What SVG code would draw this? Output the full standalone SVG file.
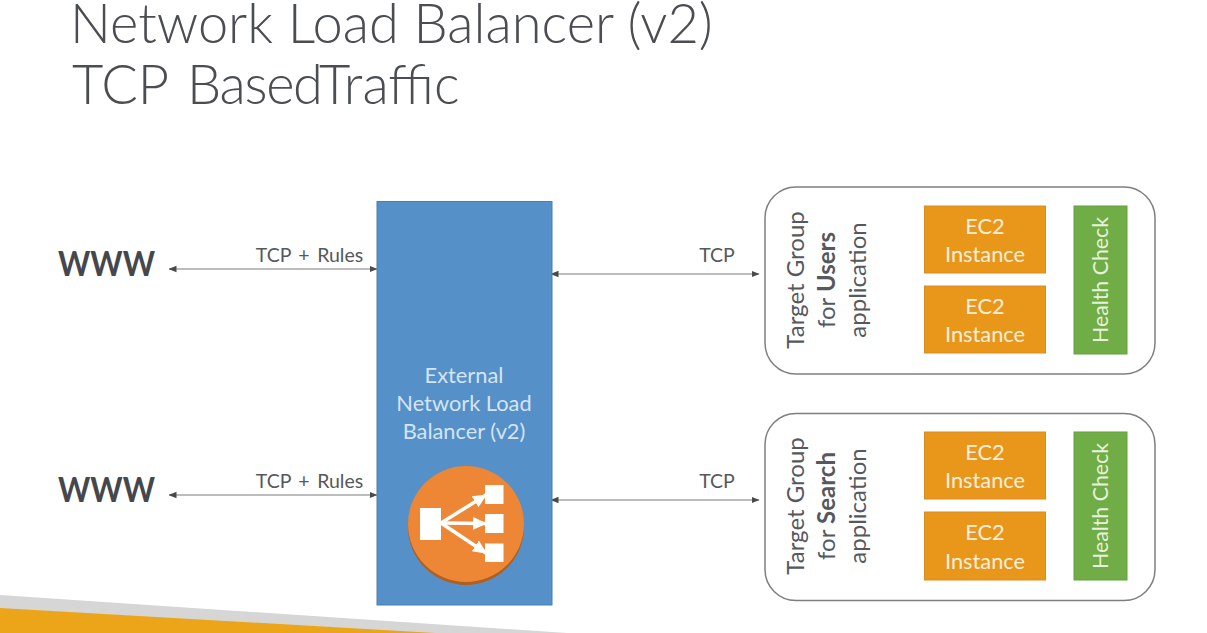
<svg xmlns="http://www.w3.org/2000/svg" width="1207" height="633" viewBox="0 0 1207 633">
<style>
text{font-family:Lato,"Open Sans",sans-serif;}
.title{font-size:54.2px;font-weight:300;fill:#4a4d52;}
.lbl{font-size:19.5px;fill:#55585c;text-anchor:middle;}
.wide{word-spacing:2.5px;}
.www{font-size:35px;font-weight:700;fill:#44484c;text-anchor:middle;}
.w{font-size:21.800px;fill:#fbeeda;text-anchor:middle;}
.lb{font-size:21.800px;fill:#d6e4f3;text-anchor:middle;}
.tg{font-size:24px;fill:#55585c;text-anchor:middle;}
.hc{font-size:21.300px;fill:#e6f2dc;text-anchor:middle;}
.ec2{fill:#e8971a;stroke:#d98d20;stroke-width:1;}
.health{fill:#70ad47;stroke:#64a03e;stroke-width:1;}
.group{fill:#fff;stroke:#7f7f7f;stroke-width:1.5;}
.conn{stroke:#a6a6a6;stroke-width:1.3;fill:none;marker-start:url(#ah);marker-end:url(#ah);}
</style>
<defs>
<marker id="ah" viewBox="0 0 8 8" refX="7.500" refY="4" markerWidth="8" markerHeight="8" markerUnits="userSpaceOnUse" orient="auto-start-reverse"><path d="M0 0.8L8 4L0 7.2Z" fill="#4a4a4a"/></marker>
<marker id="wa" viewBox="0 0 12 12" refX="11" refY="6" markerWidth="14" markerHeight="14" markerUnits="userSpaceOnUse" orient="auto"><path d="M0 0.5L12 6L0 11.5Z" fill="#fff"/></marker>
</defs>
<rect width="1207" height="633" fill="#fff"/>
<g id="footer">
<path d="M0 595L567 633H0Z" fill="#d6d6d6"/>
<path d="M0 608L435 633H0Z" fill="#eca518"/>
</g>
<g id="title">
<text class="title" x="70" y="43">Network Load Balancer (v2)</text>
<text class="title" x="72" y="104">TCP<tspan x="187" letter-spacing="-1.300">Based</tspan><tspan x="319">Traffic</tspan></text>
</g>
<g id="connectors">
<line class="conn" x1="169" y1="269" x2="377" y2="269"/>
<line class="conn" x1="169" y1="495" x2="377" y2="495"/>
<line class="conn" x1="551" y1="274" x2="759" y2="274"/>
<line class="conn" x1="551" y1="500" x2="759" y2="500"/>
<text class="lbl wide" x="309.500" y="262">TCP + Rules</text>
<text class="lbl wide" x="309.500" y="488">TCP + Rules</text>
<text class="lbl" x="717" y="262">TCP</text>
<text class="lbl" x="717" y="488">TCP</text>
</g>
<g id="www-top"><text class="www" x="106.500" y="276" textLength="97" lengthAdjust="spacingAndGlyphs">WWW</text></g>
<g id="www-bottom"><text class="www" x="106.500" y="502" textLength="97" lengthAdjust="spacingAndGlyphs">WWW</text></g>
<g id="load-balancer">
<rect x="377" y="201.500" width="175" height="403.500" fill="#5590c9" stroke="#4a7eb0" stroke-width="1"/>
<text class="lb" x="464" y="383">External</text>
<text class="lb" x="464" y="411">Network Load</text>
<text class="lb" x="464" y="439">Balancer (v2)</text>
<circle cx="466" cy="527" r="58" fill="#b05f22"/>
<circle cx="466" cy="524" r="58" fill="#ed8735"/>
<rect x="420" y="508" width="21" height="32" fill="#fff"/>
<rect x="485" y="485" width="18.500" height="19" fill="#fff"/>
<rect x="485" y="514" width="18.500" height="19" fill="#fff"/>
<rect x="485" y="543.500" width="18.500" height="18.500" fill="#fff"/>
<g stroke="#fff" stroke-width="3.500" fill="none">
<line x1="441" y1="523" x2="486" y2="495" marker-end="url(#wa)"/>
<line x1="441" y1="523" x2="486" y2="523.500" marker-end="url(#wa)"/>
<line x1="441" y1="523" x2="486" y2="553" marker-end="url(#wa)"/>
</g>
</g>
<g id="target-group-users">
<rect class="group" x="765" y="187" width="390" height="187" rx="31"/>
<text class="tg" transform="translate(804 280) rotate(-90)">Target Group</text>
<text class="tg" transform="translate(835 280) rotate(-90)">for <tspan font-weight="700">Users</tspan></text>
<text class="tg" transform="translate(866 280) rotate(-90)">application</text>
<g id="ec2-users-1"><rect class="ec2" x="924.500" y="206" width="121" height="67"/><text class="w" x="985" y="234">EC2</text><text class="w" x="985" y="262">Instance</text></g>
<g id="ec2-users-2"><rect class="ec2" x="924.500" y="286" width="121" height="67"/><text class="w" x="985" y="314">EC2</text><text class="w" x="985" y="342">Instance</text></g>
<g id="health-users"><rect class="health" x="1074" y="206" width="53" height="148"/><text class="hc" transform="translate(1108 280) rotate(-90)">Health Check</text></g>
</g>
<g id="target-group-search">
<rect class="group" x="765" y="413.500" width="390" height="187" rx="31"/>
<text class="tg" transform="translate(804 506) rotate(-90)">Target Group</text>
<text class="tg" transform="translate(835 506) rotate(-90)">for <tspan font-weight="700">Search</tspan></text>
<text class="tg" transform="translate(866 506) rotate(-90)">application</text>
<g id="ec2-search-1"><rect class="ec2" x="924.500" y="432" width="121" height="67"/><text class="w" x="985" y="460">EC2</text><text class="w" x="985" y="488">Instance</text></g>
<g id="ec2-search-2"><rect class="ec2" x="924.500" y="512" width="121" height="68"/><text class="w" x="985" y="540">EC2</text><text class="w" x="985" y="569">Instance</text></g>
<g id="health-search"><rect class="health" x="1074" y="432" width="53" height="148"/><text class="hc" transform="translate(1108 506) rotate(-90)">Health Check</text></g>
</g>
</svg>
